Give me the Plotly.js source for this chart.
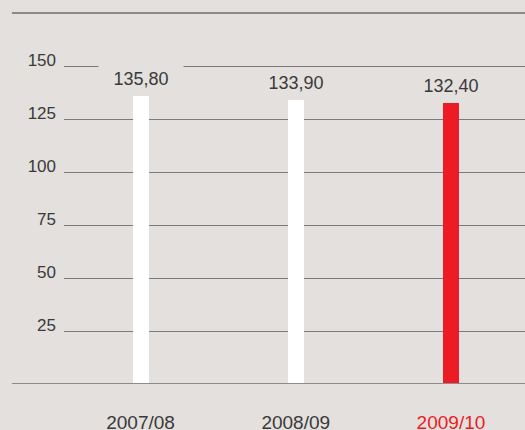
<!DOCTYPE html>
<html>
<head>
<meta charset="utf-8">
<script src="https://cdn.plot.ly/plotly-3.0.1.min.js"></script>
<style>html,body{margin:0;padding:0;background:#e3e0dd;}#chart{width:525px;height:430px;}</style>
</head>
<body>
<div id="chart"></div>
<script>
var categories = ['2007/08', '2008/09', '2009/10'];
var values = [135.8, 133.9, 132.4];
var yTicks = [25, 50, 75, 100, 125, 150];

var BG = '#e3e0dd';
var TXT = '#3a3a3a';
var RED = '#ed1c24';

var ticktext = categories.map(function (c, i) {
  return i === categories.length - 1 ? '<span style="color:' + RED + '">' + c + '</span>' : c;
});

var trace = {
  type: 'bar',
  x: categories,
  y: values,
  width: 0.103,
  marker: { color: ['#ffffff', '#ffffff', RED], line: { width: 0 } },
  hoverinfo: 'skip'
};

var annotations = categories.map(function (c, i) {
  return {
    x: c, y: values[i], xref: 'x', yref: 'y',
    text: values[i].toFixed(2).replace('.', ','),
    showarrow: false, yanchor: 'middle', xanchor: 'center', yshift: 17,
    width: 84, height: 26, bgcolor: BG, borderpad: 0,
    font: { family: 'Liberation Sans, Arial, sans-serif', size: 18, color: TXT }
  };
});

var layout = {
  width: 525, height: 430,
  margin: { l: 64, r: 0, t: 13, b: 46, pad: 0 },
  paper_bgcolor: BG, plot_bgcolor: BG,
  showlegend: false,
  font: { family: 'Liberation Sans, Arial, sans-serif', color: TXT },
  xaxis: {
    type: 'category',
    range: [-0.493, 2.477],
    tickvals: categories, ticktext: ticktext,
    showgrid: false, zeroline: false, showline: false, ticks: '',
    ticklabelstandoff: 25,
    tickfont: { size: 19, color: TXT }
  },
  yaxis: {
    range: [0, 175],
    tickvals: yTicks, ticktext: yTicks.map(String),
    showgrid: true, gridcolor: '#7b7b7b', gridwidth: 1,
    zeroline: false, showline: false, ticks: '',
    ticklabelstandoff: 7, ticklabelshift: -6,
    tickfont: { size: 17, color: TXT }
  },
  shapes: [
    { type: 'line', xref: 'paper', yref: 'paper', x0: -0.113, x1: 1, y0: 1, y1: 1,
      line: { color: '#6e6e6e', width: 1.5 } },
    { type: 'line', xref: 'paper', yref: 'y', x0: -0.113, x1: 1, y0: 0, y1: 0,
      line: { color: '#8c8c8c', width: 2 } }
  ],
  annotations: annotations,
  bargap: 0
};

Plotly.newPlot('chart', [trace], layout, { displayModeBar: false, staticPlot: true });
</script>
</body>
</html>
